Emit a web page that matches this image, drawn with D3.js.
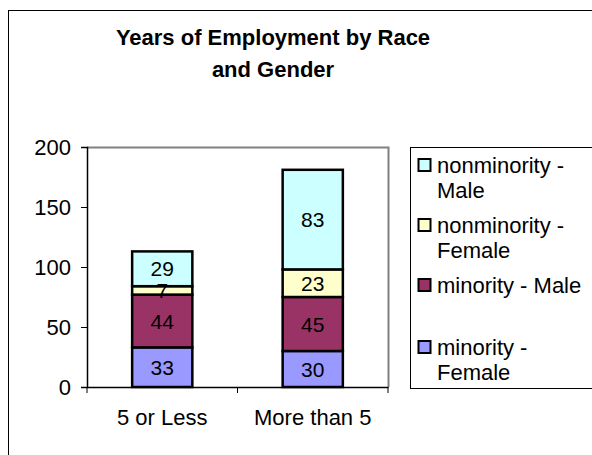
<!DOCTYPE html>
<html>
<head>
<meta charset="utf-8">
<script src="https://cdn.jsdelivr.net/npm/d3@7"></script>
<style>
  body { margin: 0; background: #fff; }
  svg { display: block; font-family: Arial, "Liberation Sans", sans-serif; }
</style>
</head>
<body>
<div id="chart"></div>
<script>
// chart data
var categories = ['5 or Less', 'More than 5'];
var seriesNames = ['minority - Female', 'minority - Male', 'nonminority - Female', 'nonminority - Male'];
var legendLines = [['minority -', 'Female'], ['minority - Male'], ['nonminority -', 'Female'], ['nonminority -', 'Male']];
var minorityFemale = [33, 30];
var minorityMale = [44, 45];
var nonminorityFemale = [7, 23];
var nonminorityMale = [29, 83];
var yTicks = [0, 50, 100, 150, 200];
var colors = ['#9999ff', '#993366', '#ffffcc', '#ccffff'];

var svgWidth = 592, svgHeight = 455;
var svg = d3.select('#chart').append('svg')
  .attr('width', svgWidth)
  .attr('height', svgHeight);

// outer chart border (runs off the right and bottom edge)
svg.append('rect')
  .attr('x', 8.5).attr('y', 10.5)
  .attr('width', 620).attr('height', 480)
  .attr('fill', 'white').attr('stroke', 'black').attr('stroke-width', 1);

// title
var title = svg.append('text')
  .attr('x', 273).attr('y', 45)
  .attr('text-anchor', 'middle')
  .attr('font-weight', 'bold')
  .attr('font-size', '22px');
title.append('tspan').attr('x', 273).text('Years of Employment by Race');
title.append('tspan').attr('x', 273).attr('dy', 32).text('and Gender');

// plot area
var plot = { left: 87, top: 147, right: 388, bottom: 387 };

var x = d3.scaleBand()
  .domain(categories)
  .range([plot.left, plot.right])
  .paddingInner(0.6)
  .paddingOuter(0.3);

var y = d3.scaleLinear()
  .domain([0, 200])
  .range([plot.bottom, plot.top]);

// gray frame on top and right
svg.append('path')
  .attr('d', `M${plot.left},${plot.top + 0.5}H${plot.right + 0.5}V${plot.bottom}`)
  .attr('fill', 'none').attr('stroke', '#808080').attr('stroke-width', 2);

// stacked data
var table = categories.map(function(c, i) {
  return {
    cat: c,
    'minority - Female': minorityFemale[i],
    'minority - Male': minorityMale[i],
    'nonminority - Female': nonminorityFemale[i],
    'nonminority - Male': nonminorityMale[i]
  };
});
var stacked = d3.stack().keys(seriesNames)(table);

var layers = svg.append('g').selectAll('g')
  .data(stacked)
  .enter().append('g')
  .attr('fill', (d, i) => colors[i]);

layers.selectAll('rect')
  .data(d => d)
  .enter().append('rect')
  .attr('x', d => x(d.data.cat))
  .attr('y', d => y(d[1]))
  .attr('width', x.bandwidth())
  .attr('height', d => y(d[0]) - y(d[1]))
  .attr('stroke', 'black')
  .attr('stroke-width', 2.5);

// data labels, drawn on top of every segment
var labelData = [];
stacked.forEach(function(s) {
  s.forEach(function(v) { labelData.push({ cat: v.data.cat, lo: v[0], hi: v[1] }); });
});
svg.append('g').selectAll('text')
  .data(labelData)
  .enter().append('text')
  .attr('x', d => x(d.cat) + x.bandwidth() / 2)
  .attr('y', d => (y(d.lo) + y(d.hi)) / 2)
  .attr('dy', '0.36em')
  .attr('text-anchor', 'middle')
  .attr('fill', 'black')
  .attr('font-size', '21px')
  .text(d => d.hi - d.lo);

// axes
var leftAxis = d3.axisLeft(y).tickValues(yTicks).tickSize(6).tickPadding(10);
var gy = svg.append('g')
  .attr('transform', `translate(${plot.left},0)`)
  .call(leftAxis);
gy.select('.domain').attr('stroke', 'black').attr('stroke-width', 1.5);
gy.selectAll('.tick line').attr('stroke', 'black');
gy.selectAll('text').attr('font-size', '22px').attr('fill', 'black')
  .attr('font-family', 'Arial, "Liberation Sans", sans-serif');

var bottomAxis = d3.axisBottom(x).tickSize(0).tickPadding(22);
var gx = svg.append('g')
  .attr('transform', `translate(0,${plot.bottom})`)
  .call(bottomAxis);
gx.select('.domain').attr('stroke', 'black').attr('stroke-width', 1.5);
gx.selectAll('text').attr('font-size', '22px').attr('fill', 'black')
  .attr('font-family', 'Arial, "Liberation Sans", sans-serif');
// category boundary ticks
var bounds = [plot.left, plot.left + (plot.right - plot.left) / 2, plot.right];
gx.selectAll('line.bound')
  .data(bounds)
  .enter().append('line')
  .attr('class', 'bound')
  .attr('x1', d => d).attr('x2', d => d)
  .attr('y1', 0).attr('y2', 6)
  .attr('stroke', 'black');

// legend
var legend = svg.append('g');
legend.append('rect')
  .attr('x', 410.5).attr('y', 147.5)
  .attr('width', 220).attr('height', 241)
  .attr('fill', 'white').attr('stroke', 'black');

var legendY = [347, 285, 225, 165];
var items = legend.selectAll('g.item')
  .data(seriesNames)
  .enter().append('g')
  .attr('class', 'item')
  .attr('transform', (d, i) => `translate(418,${legendY[i]})`);

items.append('rect')
  .attr('x', 0.5).attr('y', -6)
  .attr('width', 12).attr('height', 12)
  .attr('fill', (d, i) => colors[i])
  .attr('stroke', 'black').attr('stroke-width', 2);

items.append('text')
  .attr('font-size', '22px')
  .each(function(d, i) {
    var t = d3.select(this);
    legendLines[i].forEach(function(line, j) {
      t.append('tspan').attr('x', 19).attr('dy', j === 0 ? '0.36em' : 25).text(line);
    });
  });
</script>
</body>
</html>
